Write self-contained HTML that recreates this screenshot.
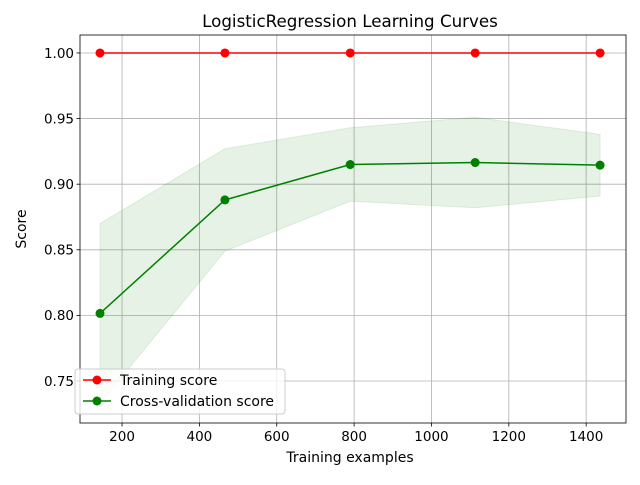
<!DOCTYPE html>
<html><head><meta charset="utf-8"><style>body{margin:0;background:#fff}svg{font-family:"DejaVu Sans","Liberation Sans",sans-serif}</style></head>
<body>
<svg id="c" width="640" height="480" viewBox="0 0 640 480">
<rect width="640" height="480" fill="#fff"/>
<text x="350" y="27" font-size="16.7" text-anchor="middle">LogisticRegression Learning Curves</text>
<g id="grid"></g><g id="bands"></g><g id="lines"></g>
<rect x="80" y="35" width="546" height="388" fill="none" stroke="#000" stroke-width="0.8"/>
<g id="ticks"></g>
<text x="350" y="462" font-size="14" text-anchor="middle">Training examples</text>
<text transform="translate(26,229) rotate(-90)" font-size="14" text-anchor="middle">Score</text>
<g>
<rect x="75" y="369" width="210" height="45" rx="3" fill="#fff" fill-opacity="0.8" stroke="#ccc"/>
<line x1="83" y1="380" x2="111" y2="380" stroke="red" stroke-width="1.5"/><circle cx="97" cy="380" r="4.5" fill="red"/>
<text x="120" y="385" font-size="14">Training score</text>
<line x1="83" y1="401" x2="111" y2="401" stroke="green" stroke-width="1.5"/><circle cx="97" cy="401" r="4.5" fill="green"/>
<text x="120" y="406" font-size="14">Cross-validation score</text>
</g>
</svg>
<script>
const sizes=[143,466,790,1113,1436];
const trainMean=[1,1,1,1,1];
const trainStd=[0,0,0,0,0];
const cvMean=[0.8015,0.888,0.915,0.9165,0.9145];
const cvStd=[0.0685,0.039,0.028,0.0345,0.0235];
const xTicks=[200,400,600,800,1000,1200,1400];
const yTicks=[0.75,0.80,0.85,0.90,0.95,1.00];
const NS="http://www.w3.org/2000/svg";
const X=v=>80+(v-91.3)/(1503-91.3)*546;
const Y=v=>423-(v-0.718)/(1.0137-0.718)*388;
function mk(t,a,p){const e=document.createElementNS(NS,t);for(const k in a)e.setAttribute(k,a[k]);document.getElementById(p).appendChild(e);return e;}
xTicks.forEach(t=>{const x=X(t);
const g=mk('line',{x1:x,x2:x,y1:35,y2:423,stroke:'#b0b0b0','stroke-width':0.8},'grid');

mk('line',{x1:x,x2:x,y1:423,y2:426.5,stroke:'#000','stroke-width':0.8},'ticks');
const l=mk('text',{x:x,y:441,'font-size':13.5,'text-anchor':'middle'},'ticks');l.textContent=t;
});
yTicks.forEach(t=>{const y=Y(t);
const g=mk('line',{x1:80,x2:626,y1:y,y2:y,stroke:'#b0b0b0','stroke-width':0.8},'grid');

mk('line',{x1:76.5,x2:80,y1:y,y2:y,stroke:'#000','stroke-width':0.8},'ticks');
const l=mk('text',{x:74,y:y+4.8,'font-size':13.5,'text-anchor':'end'},'ticks');l.textContent=t.toFixed(2);
});
function series(mean,std,col,name){
const up=sizes.map((s,i)=>X(s)+','+Y(mean[i]+std[i]));
const lo=sizes.map((s,i)=>X(s)+','+Y(mean[i]-std[i])).reverse();
const b=mk('polygon',{points:up.concat(lo).join(' '),fill:col,'fill-opacity':0.1,stroke:col,'stroke-opacity':0.1},'bands');

const p=mk('polyline',{points:sizes.map((s,i)=>X(s)+','+Y(mean[i])).join(' '),fill:'none',stroke:col,'stroke-width':1.5},'lines');

sizes.forEach((s,i)=>{const c=mk('circle',{cx:X(s),cy:Y(mean[i]),r:4.5,fill:col},'lines');
});}
series(trainMean,trainStd,'red','training');
series(cvMean,cvStd,'green','cv');
</script>
</body></html>
